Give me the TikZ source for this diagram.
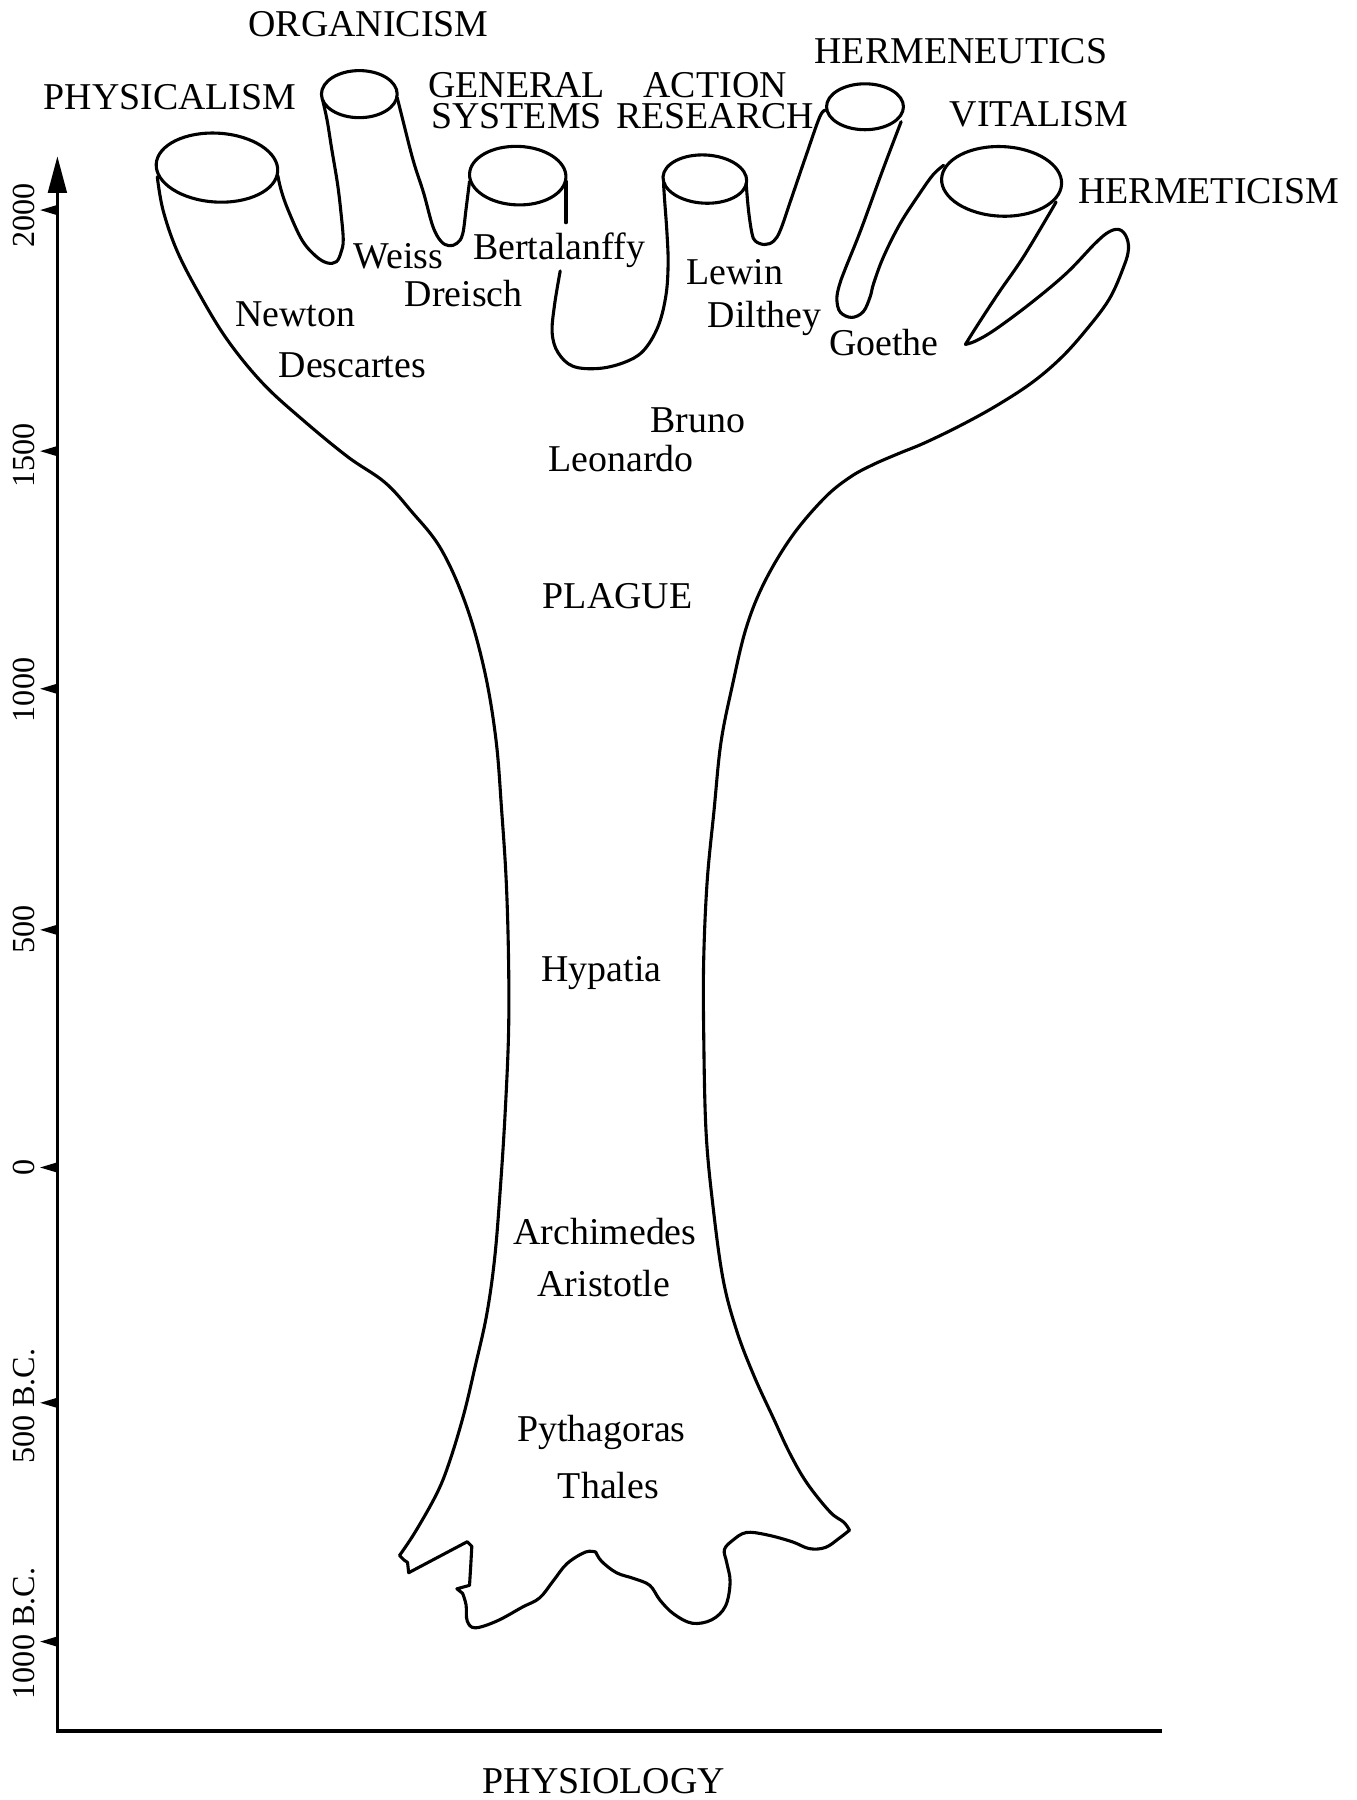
\documentclass[tikz,border=0pt]{standalone}
\usepackage{fontspec}
\setmainfont{Liberation Serif}
\usetikzlibrary{arrows.meta}
\begin{document}
\begin{tikzpicture}[x=0.5pt,y=-0.5pt,
  outline/.style={line width=1.35pt, line join=round, line cap=round},
  axisline/.style={line width=1.6pt, line join=miter},
  lab/.style={font=\fontsize{16.5}{16.5}\selectfont, inner sep=0pt, anchor=base},
  twolab/.style={font=\fontsize{16.5}{13.5}\selectfont, inner sep=0pt, align=center, anchor=center},
  axlab/.style={font=\fontsize{14}{14}\selectfont, inner sep=0pt, anchor=base, rotate=90},
  tickmark/.style={fill=black}]
\useasboundingbox (0,0) rectangle (1182,1568);

% ---------------- axes ----------------
\coordinate (O) at (50,1508);
\coordinate (Ytop) at (50,136);
\coordinate (Xend) at (1012,1508);
\draw[axisline,{Triangle[length=16pt,width=8pt]}-] (Ytop) -- (O) -- (Xend);

\foreach \yy in {183,393,600,810,1017,1222,1430}{
  \fill[tickmark] (50,\yy-4.5) -- (35,\yy) -- (50,\yy+4.5) -- cycle;
}
\node[axlab] (t2000) at (30,188) {2000};
\node[axlab] (t1500) at (30,397) {1500};
\node[axlab] (t1000) at (30,601) {1000};
\node[axlab] (t500) at (30,810) {500};
\node[axlab] (t0) at (30,1017) {0};
\node[axlab] (t500bc) at (30,1225) {500 B.C.};
\node[axlab] (t1000bc) at (30,1423) {1000 B.C.};
\node[lab] (physiology) at (526,1562) {PHYSIOLOGY};

% ---------------- tree outline ----------------
% left trunk, ragged foot, right trunk, hermeticism finger, vitalism right side
\draw[outline] plot[smooth,tension=0.6] coordinates {(137,154) (142,183) (154,218) (173,255) (198,296) (229,334) (264,366) (303,398) (335,420) (358,445) (384,478) (406,527) (422,584) (432,644) (437,706) (441,768) (443,836) (443,900) (440,970) (436,1033) (431,1095) (424,1145) (414,1190) (404,1232) (392,1272) (381,1300) (362,1334) (348,1355)}
 -- (352,1359) -- (355,1361) -- (356,1370) -- (407,1343) -- (411,1347)
 -- plot[smooth] coordinates {(411,1347) (410,1365) (409,1381)}
 -- (398,1384) -- (403,1388)
 -- plot[smooth,tension=0.6] coordinates {(403,1388) (406,1398) (407,1412) (414,1418) (433,1412) (455,1400) (470,1392) (482,1377) (494,1362) (510,1352) (519,1352)}
 -- plot[smooth,tension=0.6] coordinates {(519,1352) (524,1360) (537,1370) (552,1375) (566,1381) (575,1394) (587,1406) (603,1414) (620,1411) (632,1399) (636,1378) (633,1361) (631,1350) (638,1342) (650,1335) (668,1337) (690,1343) (705,1349) (719,1348) (731,1340) (740,1333)}
 -- plot[smooth,tension=0.6] coordinates {(740,1333) (735,1326) (723,1317) (703,1292) (688,1266) (674,1236) (657,1199) (642,1160) (630,1115) (621,1050) (615,985) (613,900) (613,836) (616,768) (622,706) (628,647) (638,597) (650,547) (666,507) (690,467) (718,434) (740,416) (760,405) (783,395) (805,386) (836,371) (867,354) (898,334) (923,313) (944,290) (966,261) (979,232) (983,217) (981,206) (975,200) (966,202) (954,212) (929,238) (898,264) (867,287) (850,297) (841,300)}
 -- plot[smooth,tension=0.6] coordinates {(841,300) (851,284) (870,255) (892,223) (920,176)};

% physicalism right side -> organicism left side
\draw[outline] plot[smooth,tension=0.6] coordinates {(242,153) (245,166) (251,183) (263,209) (275,223) (285,229) (293,228) (297,220) (299,209) (297,185) (294,160) (289,130) (285,105) (281,87)};
% organicism right side -> general systems left side
\draw[outline] plot[smooth,tension=0.6] coordinates {(346,85) (351,105) (360,140) (369,168) (377,197) (384,210) (391,214) (398,212) (403,204) (406,182) (409,158)};
% general systems right side (broken by the label)
\draw[outline] (493,158) -- (493,194);
\draw[outline] plot[smooth,tension=0.6] coordinates {(488,236) (483,266) (481,290) (486,307) (499,319) (521,321) (543,316) (560,306) (573,285) (580,258) (582,230) (581,203) (579,175) (578,160)};
% action research right side -> hermeneutics left side
\draw[outline] plot[smooth,tension=0.6] coordinates {(650,160) (652,183) (655,203) (658,210) (666,213) (674,210) (680,200) (689,174) (702,136) (714,102) (719,96)};
% hermeneutics right side -> vitalism left side
\draw[outline] plot[smooth,tension=0.6] coordinates {(785,106) (769,148) (750,200) (736,235) (731,249) (729,261) (732,272) (742,276.5) (752,271.5) (758,258.5) (761,247) (769.5,224) (784,195) (801.5,168) (813,152) (822,144)};

% cylinder tops
\draw[outline, rotate around={-3.5:(189,146)}] (189,146) ellipse [x radius=53, y radius=30];
\draw[outline] (313,82) ellipse [x radius=33, y radius=20.5];
\draw[outline, rotate around={-2:(451,153)}] (451,153) ellipse [x radius=42, y radius=25.5];
\draw[outline, rotate around={-3:(614,156)}] (614,156) ellipse [x radius=36.5, y radius=21];
\draw[outline] (753.5,93) ellipse [x radius=33.5, y radius=20];
\draw[outline, rotate around={-2.5:(872.5,158)}] (872.5,158) ellipse [x radius=52.3, y radius=30.3];

% ---------------- labels ----------------
\node[lab] (organicism) at (321,32) {ORGANICISM};
\node[lab] (physicalism) at (148,95) {PHYSICALISM};
\node[twolab] (gensys) at (450,88) {GENERAL\\SYSTEMS};
\node[twolab] (actres) at (623,88) {ACTION\\RESEARCH};
\node[lab] (hermeneutics) at (837,55) {HERMENEUTICS};
\node[lab] (vitalism) at (905,110) {VITALISM};
\node[lab] (hermeticism) at (1053,177) {HERMETICISM};

\node[lab] (weiss) at (347,234) {Weiss};
\node[lab] (bertalanffy) at (487,226) {Bertalanffy};
\node[lab] (dreisch) at (404,267) {Dreisch};
\node[lab] (newton) at (257,284) {Newton};
\node[lab] (descartes) at (307,329) {Descartes};
\node[lab] (lewin) at (640,248) {Lewin};
\node[lab] (dilthey) at (666,285) {Dilthey};
\node[lab] (goethe) at (770,310) {Goethe};
\node[lab] (bruno) at (608,377) {Bruno};
\node[lab] (leonardo) at (541,411) {Leonardo};
\node[lab] (plague) at (538,530) {PLAGUE};
\node[lab] (hypatia) at (524,855) {Hypatia};
\node[lab] (archimedes) at (527,1084) {Archimedes};
\node[lab] (aristotle) at (526,1129) {Aristotle};
\node[lab] (pythagoras) at (524,1256) {Pythagoras};
\node[lab] (thales) at (530,1305) {Thales};
\end{tikzpicture}
\end{document}
